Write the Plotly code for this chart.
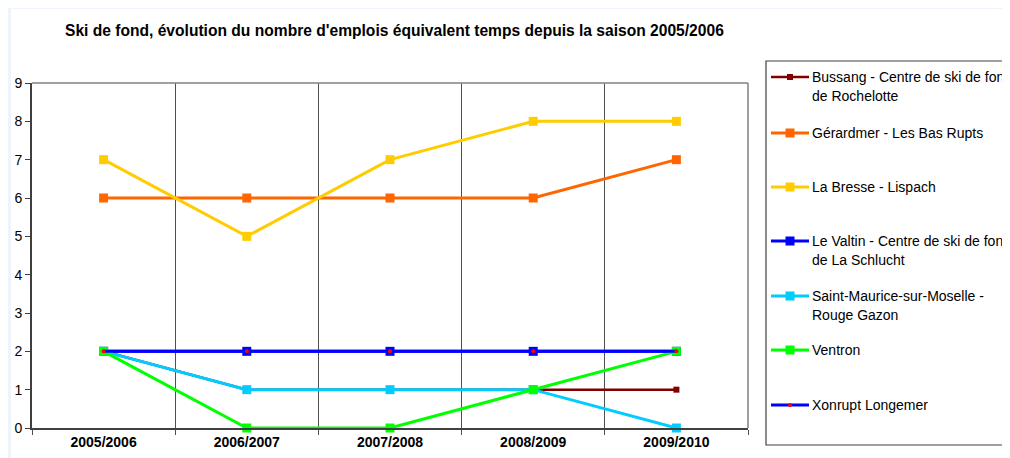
import plotly.graph_objects as go

# the page puts the figure 8px in from the top-left corner
OFF = 8
W, H = 1010 - OFF, 458 - OFF
L, R, T, B = 32 - OFF, 748 - OFF, 83 - OFF, 428 - OFF

seasons = ['2005/2006', '2006/2007', '2007/2008', '2008/2009', '2009/2010']

names = ['Bussang - Centre de ski de fond de Rochelotte',
         'Gérardmer - Les Bas Rupts',
         'La Bresse - Lispach',
         'Le Valtin - Centre de ski de fond de La Schlucht',
         'Saint-Maurice-sur-Moselle - Rouge Gazon',
         'Ventron',
         'Xonrupt Longemer']

legend_lines = [['Bussang - Centre de ski de fond', 'de Rochelotte'],
                ['Gérardmer - Les Bas Rupts'],
                ['La Bresse - Lispach'],
                ['Le Valtin - Centre de ski de fond', 'de La Schlucht'],
                ['Saint-Maurice-sur-Moselle -', 'Rouge Gazon'],
                ['Ventron'],
                ['Xonrupt Longemer']]

bussang = [2, 1, 1, 1, 1]
gerardmer = [6, 6, 6, 6, 7]
la_bresse = [7, 5, 7, 8, 8]
le_valtin = [2, 2, 2, 2, 2]
saint_maurice = [2, 1, 1, 1, 0]
ventron = [2, 0, 0, 1, 2]
xonrupt = [2, 2, 2, 2, 2]

values = [bussang, gerardmer, la_bresse, le_valtin, saint_maurice, ventron, xonrupt]
line_colors = ['#800000', '#FF6600', '#FFCC00', '#0000FF', '#00CCFF', '#00FF00', '#0000FF']
marker_colors = ['#800000', '#FF6600', '#FFCC00', '#0000FF', '#00CCFF', '#00FF00', '#FF0000']
marker_sizes = [6, 9, 9, 9, 9, 9, 4]
marker_symbols = ['square', 'square', 'square', 'square', 'square', 'square', 'circle']
line_widths = [2.5, 3, 3, 3, 3, 3, 3]

FONT = 'Liberation Sans, Arial, sans-serif'


# target-picture pixels -> paper coordinates
def px(x):
    return (x - OFF - L) / (R - L)


def py(y):
    return (B - (y - OFF)) / (B - T)


fig = go.Figure()
for i in range(len(names)):
    fig.add_trace(go.Scatter(
        x=seasons, y=values[i], name=names[i], mode='lines+markers',
        line=dict(color=line_colors[i], width=line_widths[i]),
        marker=dict(color=marker_colors[i], size=marker_sizes[i],
                    symbol=marker_symbols[i], line=dict(width=0)),
        cliponaxis=False, showlegend=False))

shapes = [
    # page background
    dict(type='rect', xref='paper', yref='paper', x0=px(0), x1=px(1020),
         y0=py(470), y1=py(0), fillcolor='#EEF4FC', line_width=0, layer='below'),
    dict(type='rect', xref='paper', yref='paper', x0=px(11), x1=px(1020),
         y0=py(470), y1=py(9), fillcolor='white', line_width=0, layer='below'),
    # plot frame top / right
    dict(type='line', xref='paper', yref='paper', x0=0, x1=1, y0=1, y1=1,
         line=dict(color='#808080', width=1.5)),
    dict(type='line', xref='paper', yref='paper', x0=1, x1=1, y0=0, y1=1,
         line=dict(color='#808080', width=1.5)),
    # legend box
    dict(type='rect', xref='paper', yref='paper', x0=px(766), x1=px(1020),
         y0=py(445), y1=py(61), line=dict(color='#404040', width=1.2)),
]

annotations = [dict(
    text='<b>Ski de fond, évolution du nombre d\'emplois équivalent temps depuis la saison 2005/2006</b>',
    xref='paper', yref='paper', x=px(63), y=py(30), xanchor='left', yanchor='middle',
    showarrow=False, font=dict(size=15.6, color='black', family=FONT))]

leg_y = [77, 133, 187, 241, 296, 350, 405]
for i in range(len(names)):
    yy = leg_y[i]
    shapes.append(dict(type='line', xref='paper', yref='paper', x0=px(771), x1=px(809),
                       y0=py(yy), y1=py(yy),
                       line=dict(color=line_colors[i], width=line_widths[i])))
    s = marker_sizes[i] / 2
    shapes.append(dict(type='rect' if marker_symbols[i] == 'square' else 'circle',
                       xref='paper', yref='paper', x0=px(790 - s), x1=px(790 + s),
                       y0=py(yy + s), y1=py(yy - s),
                       fillcolor=marker_colors[i], line_width=0))
    for j, txt in enumerate(legend_lines[i]):
        annotations.append(dict(text=txt, xref='paper', yref='paper', x=px(810),
                                y=py(yy + 19 * j), xanchor='left', yanchor='middle',
                                showarrow=False, font=dict(size=14, color='black', family=FONT)))

fig.update_layout(
    width=W, height=H,
    margin=dict(l=L, r=W - R, t=T, b=H - B, pad=0, autoexpand=False),
    paper_bgcolor='white', plot_bgcolor='white',
    font=dict(family=FONT, size=12, color='black'),
    shapes=shapes, annotations=annotations,
    xaxis=dict(type='category', tickson='boundaries', showgrid=True, automargin=False,
               gridcolor='#505050', gridwidth=1, ticks='outside', ticklen=5,
               tickcolor='#505050', showline=True, linecolor='#404040', linewidth=2,
               tickfont=dict(size=14, family=FONT),
               tickprefix='<b>', ticksuffix='</b>', range=[-0.5, 4.5]),
    yaxis=dict(range=[0, 9], dtick=1, showgrid=False, zeroline=False, automargin=False,
               ticks='outside', ticklen=5, tickcolor='#404040',
               showline=True, linecolor='#404040', linewidth=2,
               tickfont=dict(size=14, family=FONT)),
)

fig.write_html('out.html')
